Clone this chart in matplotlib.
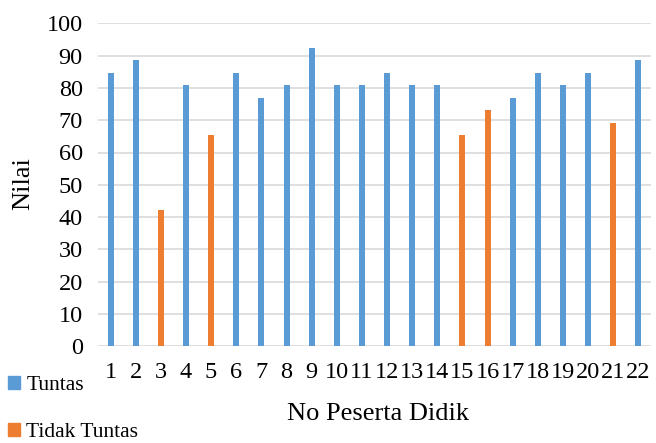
import matplotlib.pyplot as plt
import numpy as np
from matplotlib.patches import Patch

# nilai per peserta didik (1..22)
peserta = [str(i) for i in range(1, 23)]
tuntas = [84.6, 88.5, 0, 80.8, 0, 84.6, 76.9, 80.8, 92.3, 80.8, 80.8,
          84.6, 80.8, 80.8, 0, 0, 76.9, 84.6, 80.8, 84.6, 0, 88.5]
tidak_tuntas = [0, 0, 42.3, 0, 65.4, 0, 0, 0, 0, 0, 0,
                0, 0, 0, 65.4, 73.1, 0, 0, 0, 0, 69.2, 0]
yticks = list(range(0, 101, 10))

blue = '#5B9BD5'
orange = '#ED7D31'
grid = '#D9D9D9'

plt.rcParams['font.family'] = ['Liberation Serif', 'DejaVu Serif']

W, H = 656, 443
fig = plt.figure(figsize=(W / 100, H / 100), dpi=100)
left, right, top, bottom = 98, 651, 23.3, 346.3
ax = fig.add_axes([left / W, 1 - bottom / H, (right - left) / W, (bottom - top) / H])

x = np.arange(len(peserta))
ax.bar(x, tuntas, width=0.24, color=blue, zorder=3)
ax.bar(x, tidak_tuntas, width=0.24, color=orange, zorder=3)

ax.set_xlim(-0.5, len(peserta) - 0.5)
ax.set_ylim(0, 100)
ax.set_yticks(yticks)
ax.set_xticks(x)
ax.set_xticklabels(peserta)
ax.tick_params(axis='both', length=0, labelsize=17.5, colors='black')
ax.tick_params(axis='y', pad=11)
ax.tick_params(axis='x', pad=11)
for s in ax.spines.values():
    s.set_visible(False)
ax.yaxis.grid(True, color=grid, linewidth=1.2, zorder=0)
ax.set_axisbelow(True)

fig.text(378 / W, 1 - 420 / H, 'No Peserta Didik', ha='center', va='baseline', fontsize=19)
fig.text(23 / W, 1 - 184 / H, 'Nilai', ha='center', va='center', rotation=90, fontsize=19)

handles = [Patch(color=blue, label='Tuntas'), Patch(color=orange, label='Tidak Tuntas')]
fig.legend(handles=handles, loc='upper left', bbox_to_anchor=(8 / W, 1 - 376 / H),
           frameon=False, fontsize=15.5, handlelength=0.55, handleheight=0.55,
           handletextpad=0.3, labelspacing=1.3, borderpad=0, borderaxespad=0)

fig.savefig('out.png', dpi=100)
